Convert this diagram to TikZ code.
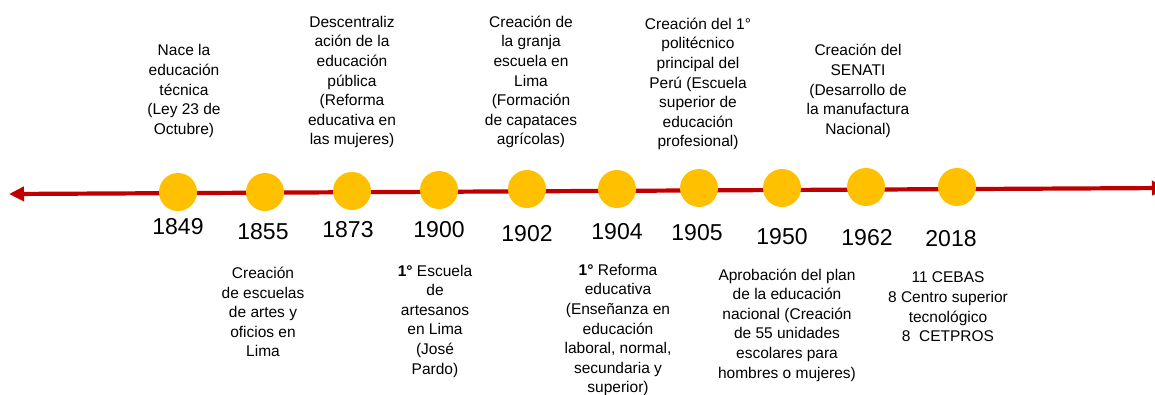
\documentclass[tikz,border=0pt]{standalone}
\usepackage{fontspec}
\setmainfont{Liberation Sans}
\usetikzlibrary{arrows.meta}
\definecolor{lred}{HTML}{C00000}
\definecolor{dotc}{HTML}{FFC000}
\begin{document}
\begin{tikzpicture}[x=1pt,y=-1pt,
  timeline/.style={draw=lred, line width=4.2pt, {Triangle[length=15pt,width=14pt]}-{Triangle[length=15pt,width=14pt]}},
  dot/.style={circle, fill=dotc, minimum size=38pt, inner sep=0pt},
  year/.style={font=\fontsize{23}{26}\selectfont, inner sep=0pt},
  desc/.style={align=center, font=\fontsize{15.5}{19.6}\selectfont, inner sep=0pt}]
\useasboundingbox (0,0) rectangle (1155,394);
\coordinate (L) at (9,194);
\coordinate (R) at (1167,188);
\draw[timeline] (L) -- (R);
% dots
\node[dot] (d1849) at (178,192) {};
\node[dot] (d1855) at (265,192) {};
\node[dot] (d1873) at (352,191) {};
\node[dot] (d1900) at (439,190) {};
\node[dot] (d1902) at (527,189) {};
\node[dot] (d1904) at (617,189) {};
\node[dot] (d1905) at (699,188) {};
\node[dot] (d1950) at (782,188) {};
\node[dot] (d1962) at (866,187) {};
\node[dot] (d2018) at (957,187) {};
% years
\node[year] (y1849) at (178,227) {1849};
\node[year] (y1855) at (263,232) {1855};
\node[year] (y1873) at (348,230) {1873};
\node[year] (y1900) at (439,230) {1900};
\node[year] (y1902) at (527,234) {1902};
\node[year] (y1904) at (617,232) {1904};
\node[year] (y1905) at (697,233) {1905};
\node[year] (y1950) at (782,237) {1950};
\node[year] (y1962) at (867,238) {1962};
\node[year] (y2018) at (951,239) {2018};
% top descriptions
\node[desc] (t1849) at (184,91) {Nace la\\educación\\técnica\\(Ley 23 de\\Octubre)};
\node[desc] (t1873) at (352,82) {Descentraliz\\ación de la\\educación\\pública\\(Reforma\\educativa en\\las mujeres)};
\node[desc] (t1902) at (531,82) {Creación de\\la granja\\escuela en\\Lima\\(Formación\\de capataces\\agrícolas)};
\node[desc] (t1905) at (698,84) {Creación del 1°\\politécnico\\principal del\\Perú (Escuela\\superior de\\educación\\profesional)};
\node[desc] (t1962) at (858,91) {Creación del\\SENATI\\(Desarrollo de\\la manufactura\\Nacional)};
% bottom descriptions
\node[desc] (b1855) at (263,312) {Creación\\de escuelas\\de artes y\\oficios en\\Lima};
\node[desc] (b1900) at (435,321) {\textbf{1°} Escuela\\de\\artesanos\\en Lima\\(José\\Pardo)};
\node[desc] (b1904) at (618,330) {\textbf{1°} Reforma\\educativa\\(Enseñanza en\\educación\\laboral, normal,\\secundaria y\\superior)};
\node[desc] (b1950) at (787,325) {Aprobación del plan\\de la educación\\nacional (Creación\\de 55 unidades\\escolares para\\hombres o mujeres)};
\node[desc] (b2018) at (948,307) {11 CEBAS\\8 Centro superior\\tecnológico\\8\ \ CETPROS};
\end{tikzpicture}
\end{document}
